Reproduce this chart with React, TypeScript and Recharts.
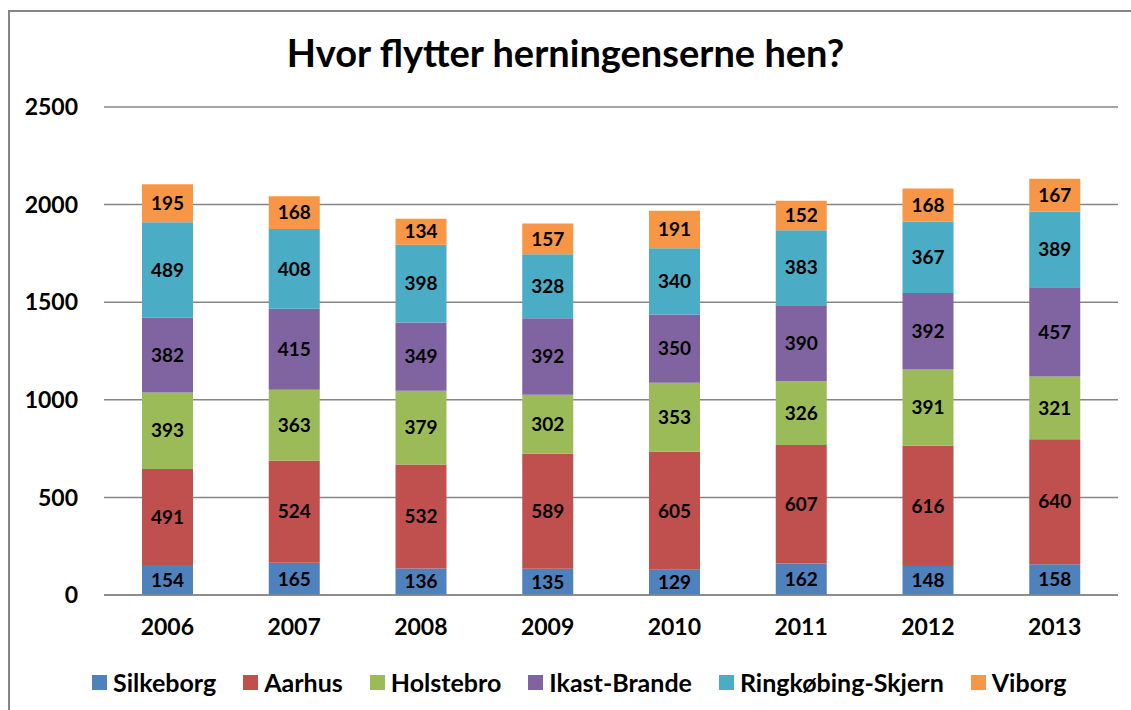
import React from "react";
import { BarChart, Bar, XAxis, YAxis, CartesianGrid, LabelList } from "recharts";

const years = ["2006", "2007", "2008", "2009", "2010", "2011", "2012", "2013"];
const silkeborg = [154, 165, 136, 135, 129, 162, 148, 158];
const aarhus = [491, 524, 532, 589, 605, 607, 616, 640];
const holstebro = [393, 363, 379, 302, 353, 326, 391, 321];
const ikastBrande = [382, 415, 349, 392, 350, 390, 392, 457];
const ringkobingSkjern = [489, 408, 398, 328, 340, 383, 367, 389];
const viborg = [195, 168, 134, 157, 191, 152, 168, 167];
const yTicks = [0, 500, 1000, 1500, 2000, 2500];

const SERIES = [
  { key: "Silkeborg", values: silkeborg, color: "#4F81BD" },
  { key: "Aarhus", values: aarhus, color: "#C0504D" },
  { key: "Holstebro", values: holstebro, color: "#9BBB59" },
  { key: "Ikast-Brande", values: ikastBrande, color: "#8064A2" },
  { key: "Ringkøbing-Skjern", values: ringkobingSkjern, color: "#4BACC6" },
  { key: "Viborg", values: viborg, color: "#F79646" },
];

const data = years.map((year, i) => {
  const row: Record<string, string | number> = { year };
  SERIES.forEach((s) => {
    row[s.key] = s.values[i];
  });
  return row;
});

const FONT = "Lato, 'Open Sans', sans-serif";

export default function App() {
  return (
    <div
      style={{
        position: "absolute",
        left: 0,
        top: 0,
        width: 1131,
        height: 710,
        overflow: "hidden",
        background: "white",
        fontFamily: FONT,
      }}
    >
      <div
        style={{
          position: "absolute",
          left: 8,
          top: 10,
          width: 1200,
          height: 800,
          border: "2px solid #868686",
        }}
      />
      <div
        style={{
          position: "absolute",
          top: 29,
          left: 0,
          width: 1131,
          textAlign: "center",
          fontSize: 38,
          fontWeight: 700,
          color: "#000",
        }}
      >
        Hvor flytter herningenserne hen?
      </div>
      <div style={{ position: "absolute", left: 0, top: 0 }}>
        <BarChart
          width={1131}
          height={710}
          data={data}
          margin={{ top: 107, right: 13, left: 0, bottom: 55 }}
        >
          <CartesianGrid vertical={false} stroke="#868686" strokeWidth={1.5} />
          <XAxis
            dataKey="year"
            height={60}
            tickLine={false}
            tickSize={0}
            tickMargin={24}
            axisLine={{ stroke: "#868686", strokeWidth: 1.5 }}
            tick={{ fill: "#000", fontSize: 23, fontWeight: 700, fontFamily: FONT }}
          />
          <YAxis
            width={104}
            domain={[0, 2500]}
            ticks={yTicks}
            tickLine={false}
            tickSize={0}
            tickMargin={26}
            axisLine={false}
            tick={{ fill: "#000", fontSize: 23, fontWeight: 700, fontFamily: FONT }}
          />
          {SERIES.map((s) => (
            <Bar
              key={s.key}
              dataKey={s.key}
              stackId="a"
              fill={s.color}
              barSize={51}
              isAnimationActive={false}
            >
              <LabelList
                dataKey={s.key}
                position="center"
                fill="#000"
                style={{ fontSize: 19, fontWeight: 700, fontFamily: FONT }}
              />
            </Bar>
          ))}
        </BarChart>
      </div>
      <div
        style={{
          position: "absolute",
          top: 667,
          left: 92,
          display: "flex",
          alignItems: "center",
          fontSize: 25,
          fontWeight: 700,
          color: "#000",
          whiteSpace: "nowrap",
        }}
      >
        {SERIES.map((s) => (
          <div key={s.key} style={{ display: "flex", alignItems: "center", marginRight: 27 }}>
            <span
              style={{
                display: "inline-block",
                width: 15,
                height: 15,
                background: s.color,
                marginRight: 6,
              }}
            />
            <span>{s.key}</span>
          </div>
        ))}
      </div>
    </div>
  );
}
